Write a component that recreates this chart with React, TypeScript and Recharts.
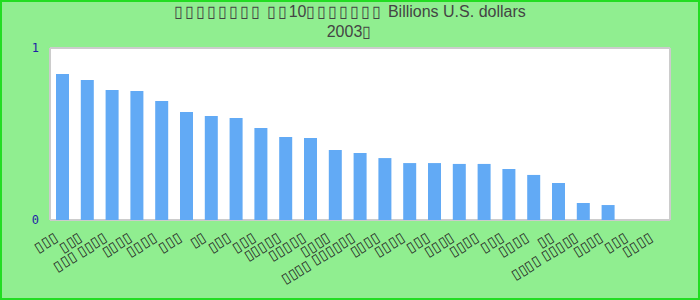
import { BarChart, Bar, XAxis, YAxis, CartesianGrid } from "recharts";

// The source text appears only as missing-glyph boxes; "▯" reproduces them.
const titleLines = [
    "▯▯▯▯▯▯▯▯ ▯▯10▯▯▯▯▯▯▯ Billions U.S. dollars",
    "2003▯",
];

const categories = [
    "▯▯▯", "▯▯▯", "▯▯▯ ▯▯▯▯", "▯▯▯▯", "▯▯▯▯",
    "▯▯▯", "▯▯", "▯▯▯", "▯▯▯", "▯▯▯▯▯",
    "▯▯▯▯▯", "▯▯▯▯", "▯▯▯▯ ▯▯▯▯▯▯", "▯▯▯▯", "▯▯▯▯",
    "▯▯▯", "▯▯▯▯", "▯▯▯▯", "▯▯▯", "▯▯▯▯",
    "▯▯", "▯▯▯▯ ▯▯▯▯▯", "▯▯▯▯", "▯▯▯", "▯▯▯▯",
];

const values = [
    0.849, 0.814, 0.756, 0.75, 0.692,
    0.628, 0.605, 0.593, 0.535, 0.483,
    0.477, 0.407, 0.39, 0.36, 0.331,
    0.331, 0.326, 0.326, 0.297, 0.262,
    0.215, 0.099, 0.087, 0, 0,
];

const yTicks = [0, 1];

const data = categories.map((c, i) => ({ name: c, value: values[i] }));

// box runs are a little wider in the reference than the stand-in glyph
function TitleLine({ text }: { text: string }) {
    return (
        <div>
            {text.split(/(▯+)/).map((part, i) =>
                part.startsWith("▯") ? (
                    <span key={i} style={{ letterSpacing: "2px" }}>{part}</span>
                ) : (
                    <span key={i}>{part}</span>
                )
            )}
        </div>
    );
}

function AxisTick({ x, y, payload }: any) {
    return (
        <text
            x={0}
            y={0}
            transform={`translate(${x - 4},${y + 12}) rotate(-32)`}
            textAnchor="end"
            fontSize={14}
            fill="#222"
        >
            {payload.value}
        </text>
    );
}

export default function App() {
    return (
        <div
            style={{
                position: "fixed",
                left: 0,
                top: 0,
                width: 700,
                height: 300,
                background: "#90ee90",
                boxShadow: "inset 0 0 0 2px #22dd22",
                fontFamily: "'Liberation Sans', Arial, sans-serif",
            }}
        >
            <div
                style={{
                    position: "absolute",
                    top: 2,
                    left: 0,
                    width: 700,
                    textAlign: "center",
                    fontSize: 16,
                    lineHeight: "20px",
                    color: "#444",
                }}
            >
                {titleLines.map((t) => (
                    <TitleLine key={t} text={t} />
                ))}
            </div>
            <BarChart
                width={700}
                height={300}
                data={data}
                margin={{ top: 48, right: 30, bottom: 20, left: 0 }}
            >
                <CartesianGrid
                    fill="#fff"
                    stroke="#ccc"
                    strokeWidth={2}
                    horizontalCoordinatesGenerator={({ offset }: any) => [offset.top, offset.top + offset.height]}
                    verticalCoordinatesGenerator={({ offset }: any) => [offset.left, offset.left + offset.width]}
                />
                <XAxis
                    dataKey="name"
                    interval={0}
                    height={60}
                    axisLine={false}
                    tickLine={false}
                    tick={<AxisTick />}
                />
                <YAxis
                    domain={[0, 1]}
                    ticks={yTicks}
                    width={50}
                    axisLine={false}
                    tickLine={false}
                    tickMargin={5}
                    tick={{ fontSize: 12, fill: "#1f1fa6", fontFamily: "'DejaVu Sans Mono', monospace" }}
                />
                <Bar dataKey="value" fill="#62aaf5" barSize={13} isAnimationActive={false} />
            </BarChart>
        </div>
    );
}
